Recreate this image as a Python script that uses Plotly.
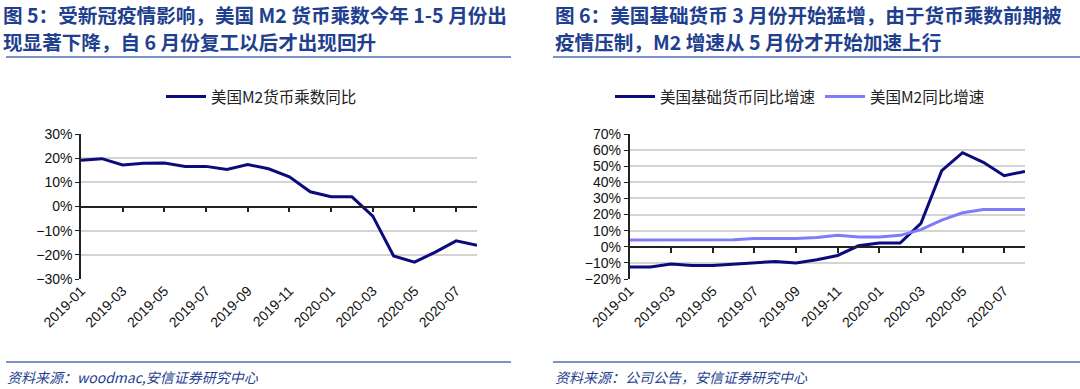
import plotly.graph_objects as go

months = ["2019-01", "2019-02", "2019-03", "2019-04", "2019-05", "2019-06", "2019-07",
          "2019-08", "2019-09", "2019-10", "2019-11", "2019-12", "2020-01", "2020-02",
          "2020-03", "2020-04", "2020-05", "2020-06", "2020-07", "2020-08"]
tick_labels = months[::2]

# Fig 5: US M2 money multiplier YoY (%)
m2_multiplier = [19.1, 19.8, 17.2, 17.9, 18.0, 16.6, 16.6, 15.3, 17.4, 15.6,
                 12.3, 6.1, 4.0, 4.0, -4.0, -20.5, -23.0, -18.9, -14.2, -16.1]
# Fig 6: US monetary base YoY / US M2 YoY (%)
base_money = [-12.6, -12.6, -10.7, -11.6, -11.6, -10.7, -9.7, -9.1, -10.0, -8.0,
              -5.4, 0.6, 2.3, 2.3, 14.5, 47.2, 58.4, 52.4, 44.1, 46.8]
m2_growth = [4.2, 4.2, 4.2, 4.2, 4.2, 4.3, 5.2, 5.2, 5.2, 5.8,
             7.1, 6.0, 6.0, 7.1, 10.6, 16.6, 21.1, 23.2, 23.2, 23.2]

W, H = 1080, 389
def px_x(v): return v / W
def px_y(v): return 1 - v / H

TITLE_C = "#1f3f8f"
NAVY = "#0b0b7d"
LIGHT = "#7d7dfa"
FONT = "Liberation Sans, Arial, Noto Sans CJK SC"
CJK = "Noto Sans CJK SC, Liberation Sans"

yb, yt = px_y(279), px_y(134)
dl = [px_x(81), px_x(477)]
dr = [px_x(629.5), px_x(1025)]

fig = go.Figure()
fig.add_trace(go.Scatter(x=months, y=[v / 100 for v in m2_multiplier], mode="lines",
                         name="美国M2货币乘数同比", line=dict(color=NAVY, width=3),
                         xaxis="x", yaxis="y", legend="legend"))
fig.add_trace(go.Scatter(x=months, y=[v / 100 for v in base_money], mode="lines",
                         name="美国基础货币同比增速", line=dict(color=NAVY, width=3),
                         xaxis="x2", yaxis="y2", legend="legend2"))
fig.add_trace(go.Scatter(x=months, y=[v / 100 for v in m2_growth], mode="lines",
                         name="美国M2同比增速", line=dict(color=LIGHT, width=3),
                         xaxis="x2", yaxis="y2", legend="legend2"))
# empty helper traces so the 0%-line tick axes get drawn
for xa, ya in (("x3", "y"), ("x4", "y2")):
    fig.add_trace(go.Scatter(x=[None], y=[None], mode="lines", showlegend=False,
                             hoverinfo="skip", xaxis=xa, yaxis=ya))

xcommon = dict(type="category", range=[0, 19], tickmode="array", tickvals=tick_labels,
               ticktext=tick_labels, tickangle=-45, showgrid=False, showline=False,
               ticks="", zeroline=False, automargin=False,
               tickfont=dict(size=14, color="#111", family=FONT))
ycommon = dict(tickformat=".0%", dtick=0.1, showgrid=True, gridcolor="#d4d4d4", gridwidth=2,
               showline=True, linecolor="#222", linewidth=1.5, ticks="outside", ticklen=4,
               tickcolor="#222", zeroline=False, automargin=False,
               tickfont=dict(size=14, color="#111", family=FONT))

zl = yb + (yt - yb) * 0.5
zr = yb + (yt - yb) * (2 / 9)
zcommon = dict(type="linear", range=[0, 19], tickmode="array", tickvals=list(range(2, 19, 2)),
               showticklabels=False, showline=True, linecolor="#222", linewidth=1.5,
               ticks="outside", ticklen=5, tickcolor="#222", tickwidth=1.5,
               showgrid=False, zeroline=False, anchor="free", automargin=False)

leg_common = dict(yanchor="middle", xanchor="left", orientation="h", itemwidth=40,
                  font=dict(size=15.5, family=CJK, color="#222"), bgcolor="rgba(0,0,0,0)")

fig.update_layout(
    width=W, height=H, margin=dict(l=0, r=0, t=0, b=0, pad=0, autoexpand=False),
    paper_bgcolor="white", plot_bgcolor="rgba(0,0,0,0)",
    font=dict(family=FONT, color="#111"),
    xaxis=dict(domain=dl, anchor="y", **xcommon),
    yaxis=dict(domain=[yb, yt], anchor="x", range=[-0.3, 0.3], **ycommon),
    xaxis2=dict(domain=dr, anchor="y2", **xcommon),
    yaxis2=dict(domain=[yb, yt], anchor="x2", range=[-0.2, 0.7], **ycommon),
    xaxis3=dict(domain=dl, position=zl, overlaying="x", **zcommon),
    xaxis4=dict(domain=dr, position=zr, overlaying="x2", **zcommon),
    legend=dict(x=px_x(161), y=px_y(97), **leg_common),
    legend2=dict(x=px_x(610), y=px_y(97), **leg_common),
    showlegend=True,
)

anns = []
def title(x, y, text):
    anns.append(dict(x=px_x(x), y=px_y(y), xref="paper", yref="paper", xanchor="left",
                     yanchor="middle", showarrow=False, text=f"<b>{text}</b>", borderpad=0,
                     font=dict(size=19.6, color=TITLE_C, family=CJK)))
title(2, 14.5, "图 5：受新冠疫情影响，美国 M2 货币乘数今年 1-5 月份出")
title(2, 42, "现显著下降，自 6 月份复工以后才出现回升")
title(554, 14.5, "图 6：美国基础货币 3 月份开始猛增，由于货币乘数前期被")
title(554, 42, "疫情压制，M2 增速从 5 月份才开始加速上行")

def source(x, text):
    anns.append(dict(x=px_x(x), y=px_y(377), xref="paper", yref="paper", xanchor="left",
                     yanchor="middle", showarrow=False, text=f"<i>{text}</i>",
                     font=dict(size=14, color=TITLE_C, family=CJK)))
source(5, "资料来源：woodmac,安信证券研究中心")
source(553, "资料来源：公司公告，安信证券研究中心")
fig.update_layout(annotations=anns)

shapes = []
for x0, x1 in [(6, 511), (553, 1080)]:
    for yy in (57, 362):
        shapes.append(dict(type="line", xref="paper", yref="paper", x0=px_x(x0), x1=px_x(x1),
                           y0=px_y(yy), y1=px_y(yy), line=dict(color="#4f6fb8", width=1.5)))
fig.update_layout(shapes=shapes)

fig.write_html("out.html", config={"displayModeBar": False},
               post_script="document.body.style.margin='0';document.body.style.overflow='hidden';")
